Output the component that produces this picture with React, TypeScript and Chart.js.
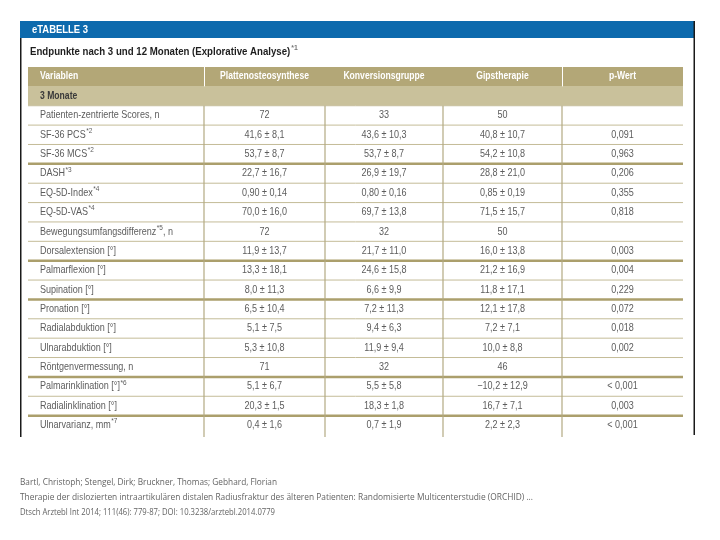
import React, { useEffect, useRef } from "react";
import { Chart, registerables } from "chart.js";

Chart.register(...registerables);

const tableTag = "eTABELLE 3";
const tableTitle = "Endpunkte nach 3 und 12 Monaten (Explorative Analyse)";
const tableTitleNote = "*1";
const headerLabels = ["Variablen", "Plattenosteosynthese", "Konversionsgruppe", "Gipstherapie", "p-Wert"];
const sectionLabel = "3 Monate";

const rowLabels = [
  "Patienten-zentrierte Scores, n",
  "SF-36 PCS",
  "SF-36 MCS",
  "DASH",
  "EQ-5D-Index",
  "EQ-5D-VAS",
  "Bewegungsumfangsdifferenz",
  "Dorsalextension [°]",
  "Palmarflexion [°]",
  "Supination [°]",
  "Pronation [°]",
  "Radialabduktion [°]",
  "Ulnarabduktion [°]",
  "Röntgenvermessung, n",
  "Palmarinklination [°]",
  "Radialinklination [°]",
  "Ulnarvarianz, mm",
];
const rowNotes = ["", "*2", "*2", "*3", "*4", "*4", "*5", "", "", "", "", "", "", "", "*6", "", "*7"];
const rowSuffixes = ["", "", "", "", "", "", ", n", "", "", "", "", "", "", "", "", "", ""];

const plattenValues = [
  "72", "41,6 ± 8,1", "53,7 ± 8,7", "22,7 ± 16,7", "0,90 ± 0,14", "70,0 ± 16,0", "72",
  "11,9 ± 13,7", "13,3 ± 18,1", "8,0 ± 11,3", "6,5 ± 10,4", "5,1 ± 7,5", "5,3 ± 10,8",
  "71", "5,1 ± 6,7", "20,3 ± 1,5", "0,4 ± 1,6",
];
const konversionValues = [
  "33", "43,6 ± 10,3", "53,7 ± 8,7", "26,9 ± 19,7", "0,80 ± 0,16", "69,7 ± 13,8", "32",
  "21,7 ± 11,0", "24,6 ± 15,8", "6,6 ± 9,9", "7,2 ± 11,3", "9,4 ± 6,3", "11,9 ± 9,4",
  "32", "5,5 ± 5,8", "18,3 ± 1,8", "0,7 ± 1,9",
];
const gipsValues = [
  "50", "40,8 ± 10,7", "54,2 ± 10,8", "28,8 ± 21,0", "0,85 ± 0,19", "71,5 ± 15,7", "50",
  "16,0 ± 13,8", "21,2 ± 16,9", "11,8 ± 17,1", "12,1 ± 17,8", "7,2 ± 7,1", "10,0 ± 8,8",
  "46", "−10,2 ± 12,9", "16,7 ± 7,1", "2,2 ± 2,3",
];
const pValues = [
  "", "0,091", "0,963", "0,206", "0,355", "0,818", "",
  "0,003", "0,004", "0,229", "0,072", "0,018", "0,002",
  "", "< 0,001", "0,003", "< 0,001",
];

const footerLines = [
  "Bartl, Christoph; Stengel, Dirk; Bruckner, Thomas; Gebhard, Florian",
  "Therapie der dislozierten intraartikulären distalen Radiusfraktur des älteren Patienten: Randomisierte Multicenterstudie (ORCHID) ...",
  "Dtsch Arztebl Int 2014; 111(46): 779-87; DOI: 10.3238/arztebl.2014.0779",
];

// layout / style constants (not data)
const COL_EDGES = [0, 176, 297, 415, 534, 655];
const THICK_AFTER = [2, 7, 9, 13, 15];
const HEADER_BG = "#b3a777";
const SECTION_BG = "#c9c19b";
const BLUE = "#0d6aad";
const SX = 0.86;
const BODY_FONT = "10.5px 'Liberation Sans', Arial, sans-serif";

function drawText(ctx: CanvasRenderingContext2D, text: string, x: number, y: number, align: CanvasTextAlign, sx: number) {
  ctx.save();
  ctx.translate(x, y);
  ctx.scale(sx, 1);
  ctx.textAlign = align;
  ctx.textBaseline = "middle";
  ctx.fillText(text, 0, 0);
  ctx.restore();
  return ctx.measureText(text).width * sx;
}

const tablePlugin = {
  id: "tablePlugin",
  beforeDatasetsDraw(chart: any) {
    const ctx: CanvasRenderingContext2D = chart.ctx;
    ctx.save();
    ctx.fillStyle = BLUE;
    ctx.fillRect(20, 21, 674, 17);
    ctx.fillStyle = "#ffffff";
    ctx.font = "bold 11px 'Liberation Sans', Arial, sans-serif";
    drawText(ctx, tableTag, 32, 30, "left", SX);
    ctx.strokeStyle = "#1a1a1a";
    ctx.lineWidth = 1.5;
    ctx.beginPath();
    ctx.moveTo(20.75, 38);
    ctx.lineTo(20.75, 437);
    ctx.moveTo(694.25, 21);
    ctx.lineTo(694.25, 435);
    ctx.stroke();
    ctx.fillStyle = "#1e1e1e";
    ctx.font = "bold 11.5px 'Liberation Sans', Arial, sans-serif";
    const w = drawText(ctx, tableTitle, 30, 51.5, "left", 0.84);
    ctx.fillStyle = "#777777";
    ctx.font = "bold 8px 'Liberation Sans', Arial, sans-serif";
    drawText(ctx, tableTitleNote, 30 + w + 1, 47.5, "left", SX);
    ctx.restore();
  },
  afterDatasetsDraw(chart: any) {
    const ctx: CanvasRenderingContext2D = chart.ctx;
    const xs = chart.scales.x;
    const ys = chart.scales.y;
    const area = chart.chartArea;
    const nRows = rowLabels.length + 2;
    const rowH = (area.bottom - area.top) / nRows;
    const colX = COL_EDGES.map((v) => xs.getPixelForValue(v));
    const rowY = (i: number) => ys.getPixelForValue(i);
    ctx.save();

    ctx.strokeStyle = "#ffffff";
    ctx.lineWidth = 1;
    [1, 4].forEach((c) => {
      ctx.beginPath();
      ctx.moveTo(Math.round(colX[c]) + 0.5, rowY(0) - rowH / 2);
      ctx.lineTo(Math.round(colX[c]) + 0.5, rowY(0) + rowH / 2);
      ctx.stroke();
    });

    for (let r = 0; r < rowLabels.length; r++) {
      const y = rowY(r + 2) - rowH / 2;
      const thick = THICK_AFTER.includes(r - 1);
      ctx.strokeStyle = thick ? "#ab9f6c" : "#c4bc98";
      ctx.lineWidth = thick ? 2.5 : 1;
      ctx.beginPath();
      ctx.moveTo(colX[0], y);
      ctx.lineTo(colX[5], y);
      ctx.stroke();
    }
    ctx.strokeStyle = "#b3a982";
    ctx.lineWidth = 1.2;
    [1, 2, 3, 4].forEach((c) => {
      ctx.beginPath();
      ctx.moveTo(colX[c], rowY(2) - rowH / 2);
      ctx.lineTo(colX[c], area.bottom + 2);
      ctx.stroke();
    });

    ctx.fillStyle = "#ffffff";
    ctx.font = "bold 10px 'Liberation Sans', Arial, sans-serif";
    headerLabels.forEach((t, c) => {
      if (c === 0) drawText(ctx, t, colX[0] + 12, rowY(0), "left", SX);
      else drawText(ctx, t, (colX[c] + colX[c + 1]) / 2, rowY(0), "center", SX);
    });
    ctx.fillStyle = "#3a3a3a";
    ctx.font = "bold 10px 'Liberation Sans', Arial, sans-serif";
    drawText(ctx, sectionLabel, colX[0] + 12, rowY(1), "left", SX);

    const cols = [plattenValues, konversionValues, gipsValues, pValues];
    rowLabels.forEach((label, r) => {
      const y = rowY(r + 2);
      ctx.fillStyle = "#5c5c5c";
      ctx.font = BODY_FONT;
      let x = colX[0] + 12;
      x += drawText(ctx, label, x, y, "left", SX);
      if (rowNotes[r]) {
        ctx.font = "7.5px 'Liberation Sans', Arial, sans-serif";
        x += drawText(ctx, rowNotes[r], x + 0.5, y - 4, "left", SX) + 0.5;
      }
      if (rowSuffixes[r]) {
        ctx.font = BODY_FONT;
        drawText(ctx, rowSuffixes[r], x, y, "left", SX);
      }
      ctx.font = BODY_FONT;
      cols.forEach((vals, c) => {
        if (vals[r]) drawText(ctx, vals[r], (colX[c + 1] + colX[c + 2]) / 2, y, "center", SX);
      });
    });
    ctx.restore();
  },
  afterDraw(chart: any) {
    const ctx: CanvasRenderingContext2D = chart.ctx;
    ctx.save();
    ctx.fillStyle = "#636363";
    ctx.font = "9.5px 'Open Sans', sans-serif";
    ctx.textAlign = "left";
    ctx.textBaseline = "middle";
    const widths = [257, 513, 255];
    const ys = [482, 497, 512];
    footerLines.forEach((t, i) => {
      ctx.fillText(t, 20, ys[i], widths[i]);
    });
    ctx.restore();
  },
};

export default function App() {
  const canvasRef = useRef<HTMLCanvasElement | null>(null);

  useEffect(() => {
    const canvas = canvasRef.current;
    if (!canvas) return;
    const allRows = [headerLabels[0], sectionLabel, ...rowLabels];
    const chart = new Chart(canvas, {
      type: "bar",
      data: {
        labels: allRows,
        datasets: [
          {
            data: allRows.map(() => [COL_EDGES[0], COL_EDGES[COL_EDGES.length - 1]]) as any,
            backgroundColor: allRows.map((_, i) => (i === 0 ? HEADER_BG : i === 1 ? SECTION_BG : "#ffffff")),
            borderWidth: 0,
            barPercentage: 1,
            categoryPercentage: 1,
          },
        ],
      },
      options: {
        indexAxis: "y",
        responsive: false,
        animation: false,
        layout: { padding: { left: 28, right: 37, top: 67, bottom: 105 } },
        scales: {
          x: { type: "linear", min: COL_EDGES[0], max: COL_EDGES[COL_EDGES.length - 1], display: false },
          y: { type: "category", display: false },
        },
        plugins: { legend: { display: false }, tooltip: { enabled: false } },
      },
      plugins: [tablePlugin],
    });
    return () => chart.destroy();
  }, []);

  return (
    <div style={{ position: "absolute", left: 0, top: 0, width: 720, height: 540, background: "#ffffff" }}>
      <canvas ref={canvasRef} width={720} height={540} style={{ width: 720, height: 540 }} />
    </div>
  );
}
